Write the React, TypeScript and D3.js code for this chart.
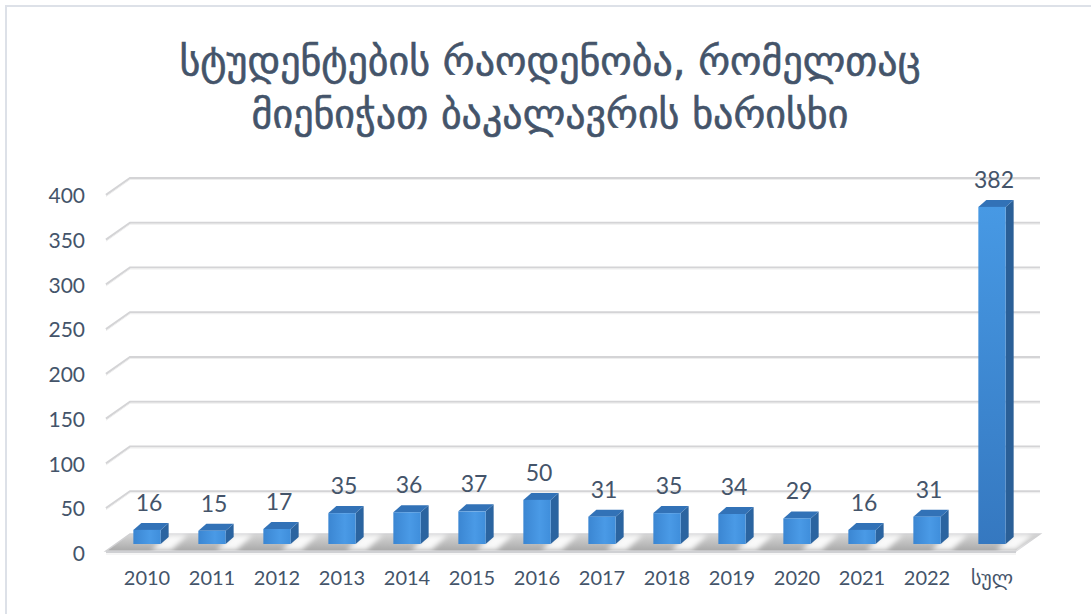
import * as d3 from 'd3';
import { useEffect, useRef } from 'react';

const categories = ['2010', '2011', '2012', '2013', '2014', '2015', '2016', '2017', '2018', '2019', '2020', '2021', '2022', 'სულ'];
const values = [16, 15, 17, 35, 36, 37, 50, 31, 35, 34, 29, 16, 31, 382];
const yTicks = [0, 50, 100, 150, 200, 250, 300, 350, 400];
const titleLines = ['სტუდენტების რაოდენობა, რომელთაც', 'მიენიჭათ ბაკალავრის ხარისხი'];

const W = 1091;
const H = 614;
const TEXT = '#44546A';

const App = () => {
  const ref = useRef<SVGSVGElement | null>(null);

  useEffect(() => {
    if (!ref.current) return;
    const svg = d3.select(ref.current);
    svg.selectAll('*').remove();

    // wall / floor geometry
    const wallLeft = 130;
    const wallRight = 1040;
    const depthX = -24;
    const depthY = 17;

    const y = d3.scaleLinear().domain([0, 400]).range([536, 178]);
    const yBar = d3.scaleLinear().domain([0, 400]).range([544, 191]);
    const x = d3.scaleBand<string>().domain(categories).range([114.5, 1024.5]).padding(0);
    const barW = x.bandwidth() * 0.42;
    const bdx = 8;
    const bdy = -7;

    const defs = svg.append('defs');
    const front = defs.append('linearGradient').attr('id', 'front').attr('x1', 0).attr('x2', 1).attr('y1', 0).attr('y2', 0);
    front.append('stop').attr('offset', '0%').attr('stop-color', '#3b86d2');
    front.append('stop').attr('offset', '60%').attr('stop-color', '#4a9ae6');
    front.append('stop').attr('offset', '100%').attr('stop-color', '#3f8edb');
    const bigFront = defs.append('linearGradient').attr('id', 'bigFront').attr('x1', 0).attr('x2', 0).attr('y1', 0).attr('y2', 1);
    bigFront.append('stop').attr('offset', '0%').attr('stop-color', '#4799e4');
    bigFront.append('stop').attr('offset', '100%').attr('stop-color', '#3578c0');
    const floorG = defs.append('linearGradient').attr('id', 'floor').attr('x1', 0).attr('x2', 0).attr('y1', 0).attr('y2', 1);
    floorG.append('stop').attr('offset', '0%').attr('stop-color', '#d6d6d6');
    floorG.append('stop').attr('offset', '100%').attr('stop-color', '#a9a9a9');
    defs.append('filter').attr('id', 'blur').append('feGaussianBlur').attr('stdDeviation', 2.5);

    // chart border
    svg.append('rect')
      .attr('x', 6).attr('y', 6).attr('width', W + 20).attr('height', H + 20)
      .attr('fill', 'white').attr('stroke', '#dde1e8').attr('stroke-width', 2);

    // title
    svg.append('g').selectAll('text')
      .data(titleLines)
      .enter()
      .append('text')
      .attr('x', 550)
      .attr('y', (_, i) => 75 + i * 53)
      .attr('text-anchor', 'middle')
      .attr('font-family', 'DejaVu Sans')
      .attr('font-size', 40)
      .attr('fill', TEXT)
      .attr('stroke', TEXT)
      .attr('stroke-width', 0.6)
      .text(d => d);

    // gridlines with side-wall diagonal
    const grid = svg.append('g');
    yTicks.filter(t => t > 0).forEach(t => {
      const yy = y(t);
      grid.append('path')
        .attr('d', `M${wallLeft + depthX},${yy + depthY}L${wallLeft},${yy}L${wallRight},${yy}`)
        .attr('fill', 'none')
        .attr('stroke', '#d4d4d6')
        .attr('stroke-width', 2.2);
      grid.append('path')
        .attr('d', `M${wallLeft + depthX},${yy + depthY + 1.5}L${wallLeft},${yy + 1.5}L${wallRight},${yy + 1.5}`)
        .attr('fill', 'none')
        .attr('stroke', '#eeeeee')
        .attr('stroke-width', 1);
    });

    // floor
    const y0 = y(0);
    svg.append('path')
      .attr('d', `M${wallLeft},${y0 - 2}L${wallRight},${y0 - 2}L${wallRight + depthX},${y0 + depthY - 2}L${wallLeft + depthX},${y0 + depthY - 2}Z`)
      .attr('fill', 'url(#floor)')
      .attr('stroke', '#d0d0d2')
      .attr('stroke-width', 1.5);
    // light reflections between bars
    const refl = svg.append('g').attr('filter', 'url(#blur)');
    categories.forEach(c => {
      const cx = (x(c) as number) + x.bandwidth();
      refl.append('path')
        .attr('d', `M${cx - 12},${y0 - 1}L${cx + 8},${y0 - 1}L${cx - 8},${y0 + depthY - 3}L${cx - 28},${y0 + depthY - 3}Z`)
        .attr('fill', '#ffffff')
        .attr('opacity', 0.9);
    });
    svg.append('path')
      .attr('d', `M${wallLeft + depthX},${y0 + depthY - 1}L${wallRight + depthX},${y0 + depthY - 1}`)
      .attr('stroke', '#cfd0d3').attr('stroke-width', 2);
    svg.append('path')
      .attr('d', `M${wallLeft + depthX},${y0 + depthY + 1}L${wallRight + depthX},${y0 + depthY + 1}`)
      .attr('stroke', '#ececec').attr('stroke-width', 1);

    // bars
    const bars = svg.append('g');
    categories.forEach((c, i) => {
      const v = values[i];
      const cx = (x(c) as number) + x.bandwidth() / 2;
      const x0 = cx - barW / 2;
      const x1 = cx + barW / 2;
      const yb = yBar(0);
      const yt = yBar(v);
      const big = i === categories.length - 1;
      // side
      bars.append('path')
        .attr('d', `M${x1},${yb}L${x1},${yt}L${x1 + bdx},${yt + bdy}L${x1 + bdx},${yb + bdy}Z`)
        .attr('fill', big ? '#2a5f97' : '#2b64a0');
      // top
      bars.append('path')
        .attr('d', `M${x0},${yt}L${x1},${yt}L${x1 + bdx},${yt + bdy}L${x0 + bdx},${yt + bdy}Z`)
        .attr('fill', '#3272b7');
      // front
      bars.append('rect')
        .attr('x', x0).attr('y', yt).attr('width', barW).attr('height', yb - yt)
        .attr('fill', big ? 'url(#bigFront)' : 'url(#front)');
      // value label
      bars.append('text')
        .attr('x', cx + 2)
        .attr('y', yt - 19)
        .attr('text-anchor', 'middle')
        .attr('font-family', 'Lato')
        .attr('font-size', 23)
        .attr('fill', TEXT)
        .text(v);
    });

    // y tick labels
    svg.append('g').selectAll('text')
      .data(yTicks)
      .enter()
      .append('text')
      .attr('x', 85)
      .attr('y', t => y(t) + 25)
      .attr('text-anchor', 'end')
      .attr('font-family', 'Lato')
      .attr('font-size', 21)
      .attr('fill', TEXT)
      .text(t => t);

    // x labels
    svg.append('g').selectAll('text')
      .data(categories)
      .enter()
      .append('text')
      .attr('x', c => (x(c) as number) + x.bandwidth() / 2)
      .attr('y', 585)
      .attr('text-anchor', 'middle')
      .attr('font-family', c => (/^\d+$/.test(c) ? 'Lato' : 'DejaVu Sans'))
      .attr('font-size', 20)
      .attr('fill', TEXT)
      .text(c => c);
  }, []);

  return (
    <svg
      ref={ref}
      width={W}
      height={H}
      style={{ position: 'absolute', left: 0, top: 0, background: 'white' }}
    />
  );
};

export default App;
